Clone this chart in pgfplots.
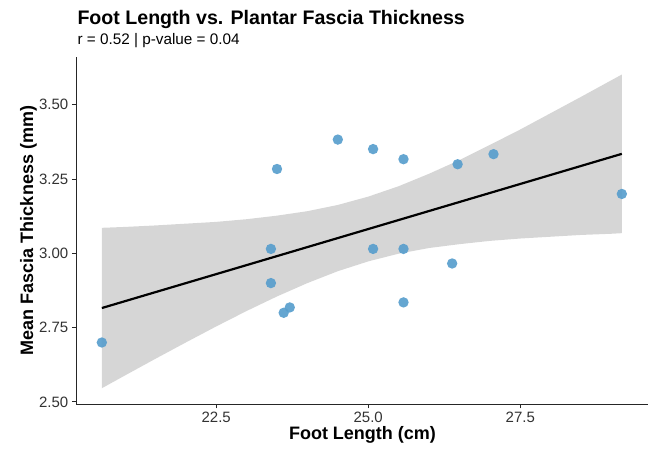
\documentclass[border=0pt]{standalone}
\usepackage{fontspec}
\setmainfont{Liberation Sans}
\usepackage{pgfplots}
\pgfplotsset{compat=1.18}
\definecolor{ptblue}{RGB}{88,158,205}
\definecolor{tickgray}{RGB}{50,50,50}
\definecolor{bandgray}{RGB}{153,153,153}
\begin{document}
\begin{tikzpicture}
\path[use as bounding box] (-76.3pt,-45pt) rectangle (574.7pt,404pt);
\begin{axis}[
  at={(0pt,0pt)}, anchor=south west,
  scale only axis, width=571.7pt, height=347.3pt,
  xmin=20.2, xmax=29.6, ymin=2.493, ymax=3.662,
  axis lines=left,
  axis line style={-, line width=0.9pt, black!85},
  tick style={line width=0.9pt, black!85},
  major tick length=4.5pt, tick align=outside,
  xtick={22.5,25,27.5}, ytick={2.5,2.75,3,3.25,3.5},
  /pgf/number format/assume math mode=true,
  x tick label style={font=\fontsize{15}{15}\selectfont, text=tickgray,
    /pgf/number format/.cd, fixed, fixed zerofill, precision=1},
  y tick label style={font=\fontsize{15}{15}\selectfont, text=tickgray,
    /pgf/number format/.cd, fixed, fixed zerofill, precision=2},
  clip=false,
]
% observations
\addplot[only marks, color=ptblue, mark=*, mark size=5.2pt, mark options={solid, fill=ptblue, draw=ptblue, draw opacity=0, fill opacity=0.92}]
coordinates {
(20.62,2.700) (23.40,3.015) (23.40,2.900) (23.50,3.284) (23.61,2.800)
(23.71,2.818) (24.50,3.383) (25.08,3.351) (25.08,3.015) (25.58,3.317)
(25.58,3.015) (25.58,2.835) (26.38,2.966) (26.47,3.300) (27.06,3.334)
(29.17,3.200)
};
% 95% confidence band (upper edge left to right, lower edge right to left)
\addplot[draw=none, fill=bandgray, fill opacity=0.4]
coordinates {
(20.62,3.086) (21.0,3.089) (21.5,3.094) (22.0,3.100) (22.5,3.106)
(23.0,3.115) (23.5,3.127) (24.0,3.142) (24.5,3.163) (25.0,3.191)
(25.5,3.226) (26.0,3.268) (26.5,3.314) (27.0,3.365) (27.5,3.417)
(28.0,3.472) (28.5,3.527) (29.0,3.583) (29.17,3.602)
(29.17,3.068) (29.0,3.066) (28.5,3.062) (28.0,3.056) (27.5,3.050)
(27.0,3.042) (26.5,3.031) (26.0,3.018) (25.5,2.999) (25.0,2.973)
(24.5,2.940) (24.0,2.900) (23.5,2.855) (23.0,2.806) (22.5,2.754)
(22.0,2.700) (21.5,2.645) (21.0,2.589) (20.62,2.546)
};
% fitted line
\addplot[black, line width=2.2pt] coordinates {(20.62,2.816) (29.17,3.335)};
\end{axis}
\node[anchor=base west, inner sep=0pt, font=\bfseries\fontsize{19.6}{19.6}\selectfont] at (1pt,379.5pt) {Foot Length vs. Plantar Fascia Thickness};
\node[anchor=base west, inner sep=0pt, font=\fontsize{15.3}{15.3}\selectfont] at (1pt,359pt) {r = 0.52 | p-value = 0.04};
\node[anchor=base, font=\bfseries\fontsize{18}{18}\selectfont] at (286.2pt,-36pt) {Foot Length (cm)};
\node[anchor=base, rotate=90, font=\bfseries\fontsize{18}{18}\selectfont] at (-43.3pt,173.5pt) {Mean Fascia Thickness (mm)};
\end{tikzpicture}
\end{document}
